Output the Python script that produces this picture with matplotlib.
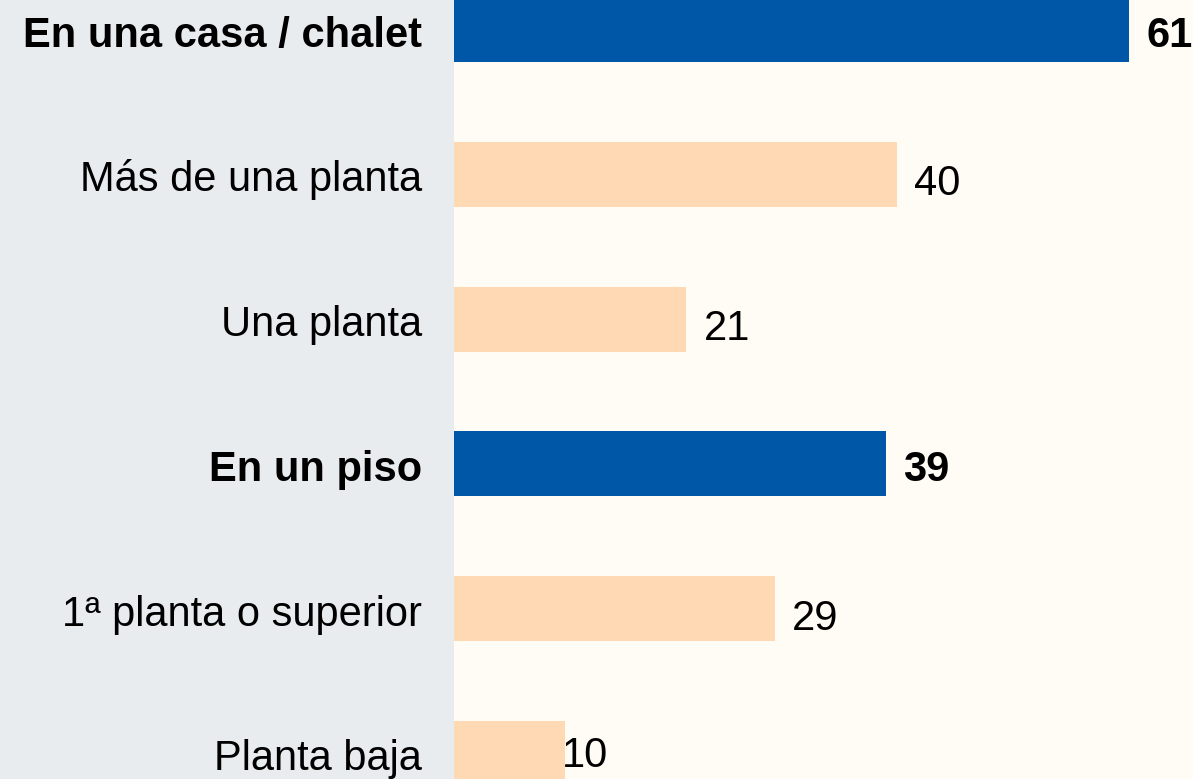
import matplotlib
matplotlib.use("Agg")
import matplotlib.pyplot as plt
from matplotlib import transforms

categories = ["En una casa / chalet", "Más de una planta", "Una planta",
              "En un piso", "1ª planta o superior", "Planta baja"]
values = [61, 40, 21, 39, 29, 10]
is_group = [True, False, False, True, False, False]

BLUE = "#0056A7"
PEACH = "#FFD9B3"
GRAY = "#E9ECEE"
CREAM = "#FFFBF5"

plt.rcParams['font.family'] = ['Liberation Sans', 'DejaVu Sans']

fig = plt.figure(figsize=(11.93, 7.79), dpi=100)
fig.patch.set_facecolor(CREAM)
ax = fig.add_axes([0, 0, 1, 1])
ax.set_facecolor(CREAM)

xmin, xmax = -41.0, 66.76
ax.set_xlim(xmin, xmax)
ax.set_ylim(5.178, -0.205)
ax.axvspan(xmin, 0, color=GRAY, zorder=0, lw=0)

ypos = list(range(len(categories)))
colors = [BLUE if g else PEACH for g in is_group]
ax.barh(ypos, values, height=0.449, color=colors, zorder=2, lw=0)

FS = 30
for y, cat, v, g in zip(ypos, categories, values, is_group):
    w = 'bold' if g else 'normal'
    ax.text(-2.9, y, cat, ha='right', va='baseline', fontsize=FS,
            fontweight=w, color='black', zorder=3,
            transform=ax.transData + transforms.ScaledTranslation(0, -17/100, fig.dpi_scale_trans))
    if v < 15:
        dx, dy = -3, -14
    elif g:
        dx, dy = 17, -17
    else:
        dx, dy = 17, -21
    off = transforms.ScaledTranslation(dx/100, dy/100, fig.dpi_scale_trans)
    ax.text(v, y, str(v), ha='left', va='baseline', fontsize=FS,
            fontweight=w, color='black', zorder=3,
            transform=ax.transData + off)

ax.axis('off')
fig.savefig("out.png", dpi=100, facecolor=CREAM)
